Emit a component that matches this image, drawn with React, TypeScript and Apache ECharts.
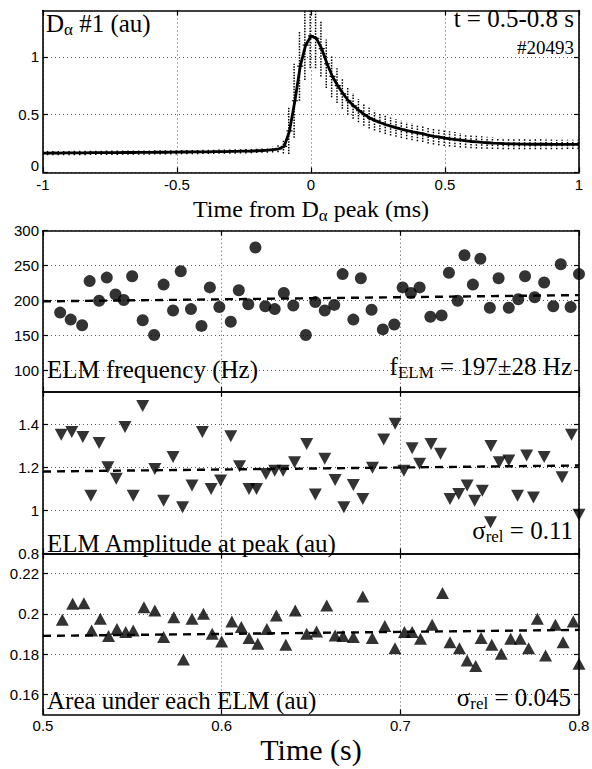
import React, { useEffect, useRef } from 'react';
import * as echarts from 'echarts';

const SERIF = '"Liberation Serif", "Times New Roman", serif';
const SANS = '"Liberation Sans", Arial, sans-serif';

// ---------- Top panel: mean D-alpha ELM waveform (ms from peak) ----------
const pulseT = [
  -1.0, -0.98, -0.96, -0.94, -0.92, -0.9, -0.88, -0.86, -0.84, -0.82,
  -0.8, -0.78, -0.76, -0.74, -0.72, -0.7, -0.68, -0.66, -0.64, -0.62,
  -0.6, -0.58, -0.56, -0.54, -0.52, -0.5, -0.48, -0.46, -0.44, -0.42,
  -0.4, -0.38, -0.36, -0.34, -0.32, -0.3, -0.28, -0.26, -0.24, -0.22,
  -0.2, -0.18, -0.16, -0.14, -0.12, -0.1, -0.08, -0.06, -0.04, -0.02,
  0.0, 0.02, 0.04, 0.06, 0.08, 0.1, 0.12, 0.14, 0.16, 0.18,
  0.2, 0.22, 0.24, 0.26, 0.28, 0.3, 0.32, 0.34, 0.36, 0.38,
  0.4, 0.42, 0.44, 0.46, 0.48, 0.5, 0.52, 0.54, 0.56, 0.58,
  0.6, 0.62, 0.64, 0.66, 0.68, 0.7, 0.72, 0.74, 0.76, 0.78,
  0.8, 0.82, 0.84, 0.86, 0.88, 0.9, 0.92, 0.94, 0.96, 0.98, 1.0,
];
const pulseMean = [
  0.168, 0.168, 0.169, 0.168, 0.169, 0.169, 0.17, 0.17, 0.17, 0.171,
  0.171, 0.171, 0.172, 0.172, 0.172, 0.173, 0.173, 0.173, 0.174, 0.174,
  0.174, 0.175, 0.175, 0.175, 0.176, 0.176, 0.177, 0.177, 0.178, 0.178,
  0.179, 0.179, 0.18, 0.181, 0.181, 0.182, 0.183, 0.184, 0.185, 0.186,
  0.188, 0.19, 0.193, 0.197, 0.205, 0.225, 0.36, 0.62, 0.92, 1.1,
  1.18, 1.16, 1.07, 0.94, 0.83, 0.75, 0.68, 0.62, 0.575, 0.535,
  0.5, 0.47, 0.448, 0.43, 0.413, 0.398, 0.385, 0.373, 0.362, 0.352,
  0.343, 0.334, 0.32, 0.312, 0.305, 0.298, 0.291, 0.285, 0.279, 0.273,
  0.268, 0.264, 0.26, 0.257, 0.254, 0.252, 0.25, 0.248, 0.247, 0.246,
  0.245, 0.244, 0.244, 0.244, 0.244, 0.243, 0.243, 0.243, 0.243, 0.243, 0.243,
];
const pulseErr = [
  0.02, 0.02, 0.02, 0.02, 0.02, 0.02, 0.02, 0.02, 0.02, 0.02,
  0.02, 0.02, 0.02, 0.02, 0.02, 0.02, 0.02, 0.02, 0.02, 0.02,
  0.02, 0.02, 0.02, 0.02, 0.02, 0.02, 0.02, 0.02, 0.02, 0.02,
  0.02, 0.02, 0.02, 0.02, 0.02, 0.02, 0.02, 0.02, 0.02, 0.02,
  0.02, 0.02, 0.022, 0.025, 0.03, 0.06, 0.2, 0.32, 0.3, 0.3,
  0.28, 0.26, 0.24, 0.21, 0.18, 0.15, 0.13, 0.12, 0.11, 0.1,
  0.095, 0.09, 0.085, 0.082, 0.08, 0.078, 0.076, 0.075, 0.074, 0.073,
  0.072, 0.071, 0.07, 0.07, 0.07, 0.068, 0.066, 0.064, 0.062, 0.06,
  0.058, 0.056, 0.054, 0.052, 0.05, 0.049, 0.048, 0.047, 0.046, 0.045,
  0.044, 0.044, 0.043, 0.043, 0.042, 0.042, 0.041, 0.041, 0.04, 0.04, 0.04,
];

// ---------- ELM frequency (Hz) ----------
const freqT = [
  0.5096, 0.5155, 0.5219, 0.5261, 0.5314, 0.5357, 0.5406, 0.5452, 0.5499, 0.5558,
  0.5622, 0.5675, 0.5728, 0.5771, 0.5828, 0.5887, 0.5934, 0.5987, 0.6051, 0.6096,
  0.6149, 0.6189, 0.6244, 0.6297, 0.6348, 0.6401, 0.6471, 0.6524, 0.6577, 0.663,
  0.6677, 0.6737, 0.6779, 0.6839, 0.6902, 0.6966, 0.7013, 0.7059, 0.7108, 0.7168,
  0.7231, 0.7272, 0.7321, 0.7359, 0.7406, 0.7448, 0.7501, 0.755, 0.7607, 0.766,
  0.7698, 0.7752, 0.7805, 0.7856, 0.7898, 0.7953, 0.8,
];
const freqV = [
  183, 173, 165, 228, 200, 233, 209, 201, 235, 172,
  151, 223, 186, 242, 188, 164, 219, 191, 170, 215,
  195, 276, 192, 188, 211, 193, 151, 198, 186, 194,
  238, 173, 232, 187, 159, 166, 219, 211, 219, 177,
  179, 240, 200, 265, 223, 260, 190, 232, 190, 202,
  235, 205, 226, 192, 252, 191, 238,
];
const freqFitT = [0.5, 0.8];
const freqFitV = [199, 208];

// ---------- ELM amplitude at peak (au) ----------
const ampT = [
  0.5102, 0.5161, 0.5223, 0.5268, 0.5314, 0.5363, 0.541, 0.5459, 0.5505, 0.5558,
  0.5626, 0.5675, 0.5728, 0.5781, 0.5834, 0.5892, 0.5941, 0.5994, 0.6051, 0.61,
  0.6153, 0.6195, 0.6248, 0.6297, 0.6344, 0.6408, 0.6476, 0.6524, 0.6577, 0.6635,
  0.6684, 0.6737, 0.679, 0.6844, 0.6907, 0.6971, 0.702, 0.7066, 0.7108, 0.7172,
  0.7225, 0.7278, 0.7327, 0.7374, 0.7416, 0.7459, 0.7505, 0.7507, 0.7554, 0.7607,
  0.7656, 0.7707, 0.7745, 0.7805, 0.7905, 0.7958, 0.8,
];
const ampV = [
  1.35, 1.363, 1.34, 1.068, 1.312, 1.2, 1.146, 1.386, 1.068, 1.484,
  1.192, 1.045, 1.247, 1.014, 1.115, 1.363, 1.099, 1.138, 1.343, 1.205,
  1.099, 1.099, 1.169, 1.184, 1.184, 1.223, 1.308, 1.073, 1.239, 1.141,
  1.014, 1.118, 1.053, 1.197, 1.329, 1.401, 1.184, 1.288, 1.216, 1.308,
  1.262, 1.053, 1.076, 1.115, 1.045, 1.091, 0.945, 1.298, 1.223, 1.231,
  1.068, 1.254, 1.06, 1.247, 1.153, 1.35, 0.98,
];
const ampFitT = [0.5, 0.8];
const ampFitV = [1.18, 1.208];

// ---------- Area under each ELM (au) ----------
const areaT = [
  0.5108, 0.5166, 0.5229, 0.5272, 0.5321, 0.5367, 0.5414, 0.5463, 0.5505, 0.5565,
  0.5626, 0.5675, 0.5732, 0.5786, 0.5834, 0.5898, 0.5947, 0.6, 0.6057, 0.611,
  0.6153, 0.6202, 0.6253, 0.6306, 0.6359, 0.6412, 0.6476, 0.6531, 0.6588, 0.6635,
  0.6679, 0.6737, 0.679, 0.6843, 0.6913, 0.697, 0.7023, 0.7066, 0.7113, 0.7178,
  0.7236, 0.7278, 0.7331, 0.7374, 0.7422, 0.7452, 0.7512, 0.7565, 0.7618, 0.7671,
  0.7718, 0.7767, 0.7813, 0.7868, 0.7911, 0.7968, 0.8,
];
const areaV = [
  0.197, 0.205, 0.2053, 0.1917, 0.1975, 0.1889, 0.1925, 0.1909, 0.1917, 0.2033,
  0.2017, 0.1884, 0.1983, 0.1773, 0.1975, 0.2, 0.1901, 0.1862, 0.1962, 0.1934,
  0.1879, 0.1851, 0.1925, 0.1992, 0.1846, 0.2017, 0.1901, 0.1912, 0.2041, 0.1892,
  0.1889, 0.1884, 0.2086, 0.1879, 0.1939, 0.1829, 0.1909, 0.1909, 0.1876, 0.1945,
  0.2104, 0.1859, 0.1829, 0.1768, 0.174, 0.1879, 0.1846, 0.1801, 0.1876, 0.1876,
  0.1829, 0.1975, 0.1793, 0.1945, 0.1859, 0.1962, 0.1751,
];
const areaFitT = [0.5, 0.8];
const areaFitV = [0.189, 0.192];

// ---------- Axis ticks ----------
const pulseXTicks = [-1, -0.5, 0, 0.5, 1];
const pulseYTicks = [0, 0.5, 1];
const pulseYLabels = [0.5, 1]; // "0" is drawn slightly raised, as in the original
const timeTicks = [0.5, 0.6, 0.7, 0.8];
const freqTicks = [100, 150, 200, 250, 300];
const ampTicks = [0.8, 1, 1.2, 1.4];
const areaTicks = [0.16, 0.18, 0.2, 0.22];

const ranges = [
  { x: [-1, 1], y: [0, 1.4], xt: pulseXTicks, yt: pulseYTicks, yl: pulseYLabels },
  { x: [0.5, 0.8], y: [70, 300], xt: timeTicks, yt: freqTicks, yl: freqTicks },
  { x: [0.5, 0.8], y: [0.8, 1.55], xt: timeTicks, yt: ampTicks, yl: ampTicks },
  { x: [0.5, 0.8], y: [0.15, 0.23], xt: timeTicks, yt: areaTicks, yl: areaTicks },
];

const pair = (xs: number[], ys: number[]) => xs.map((x, i) => [x, ys[i]]);

export default function App() {
  const ref = useRef<HTMLDivElement>(null);
  useEffect(() => {
    document.body.style.margin = '0';
    const chart = echarts.init(ref.current!, null, { renderer: 'svg' });

    const gridBoxes = [
      { left: 43, top: 10.5, width: 536, height: 162 },
      { left: 43, top: 230.7, width: 536, height: 161 },
      { left: 43, top: 391.7, width: 536, height: 161.8 },
      { left: 43, top: 553.5, width: 536, height: 160.8 },
    ];

    const frameLine = { onZero: false, lineStyle: { color: '#000', width: 1.6 } };
    const tickStyle = { color: '#000', width: 1.2 };
    const gridStyle = { color: '#555', type: [1, 3], width: 1 };
    const labelStyle = { color: '#000', fontFamily: SANS, fontSize: 15 };

    const xAxis: any[] = [];
    const yAxis: any[] = [];
    ranges.forEach((r, i) => {
      xAxis.push({
        type: 'value', gridIndex: i, position: 'bottom', min: r.x[0], max: r.x[1],
        axisLine: frameLine,
        axisTick: { inside: true, length: 5, customValues: r.xt, lineStyle: tickStyle },
        axisLabel: { show: i === 0 || i === 3, customValues: r.xt, margin: 4, ...labelStyle },
        splitLine: { show: true, lineStyle: gridStyle },
      });
      xAxis.push({
        type: 'value', gridIndex: i, position: 'top', min: r.x[0], max: r.x[1],
        axisLine: frameLine,
        axisTick: { inside: true, length: 5, customValues: r.xt, lineStyle: tickStyle },
        axisLabel: { show: false },
        splitLine: { show: false },
      });
      yAxis.push({
        type: 'value', gridIndex: i, position: 'left', min: r.y[0], max: r.y[1],
        axisLine: frameLine,
        axisTick: { inside: true, length: 5, customValues: r.yt, lineStyle: tickStyle },
        axisLabel: { show: true, customValues: r.yl, margin: 4, ...labelStyle },
        splitLine: { show: true, lineStyle: gridStyle },
      });
      yAxis.push({
        type: 'value', gridIndex: i, position: 'right', min: r.y[0], max: r.y[1],
        axisLine: frameLine,
        axisTick: { inside: true, length: 5, customValues: r.yt, lineStyle: tickStyle },
        axisLabel: { show: false },
        splitLine: { show: false },
      });
    });

    const errData = pulseT.map((t, i) => [t, pulseMean[i] - pulseErr[i], pulseMean[i] + pulseErr[i]]);

    const fitStyle = { color: '#000', width: 2.4, type: [8, 6] };

    const series: any[] = [
      {
        type: 'custom', xAxisIndex: 0, yAxisIndex: 0, clip: true, z: 2,
        data: errData,
        renderItem: (params: any, api: any) => {
          const p1 = api.coord([api.value(0), api.value(1)]);
          const p2 = api.coord([api.value(0), api.value(2)]);
          return {
            type: 'group',
            children: [
              {
                type: 'line',
                shape: { x1: p1[0] - 0.8, y1: p1[1], x2: p2[0] - 0.8, y2: p2[1] },
                style: { stroke: '#000', lineWidth: 1.5, lineDash: [1.5, 1.3] },
              },
              {
                type: 'line',
                shape: { x1: p1[0] - 3, y1: (p1[1] + p2[1]) / 2, x2: p1[0] + 3, y2: (p1[1] + p2[1]) / 2 },
                style: { stroke: '#000', lineWidth: 1.2 },
              },
            ],
          };
        },
      },
      {
        type: 'line', xAxisIndex: 0, yAxisIndex: 0, z: 3,
        data: pair(pulseT, pulseMean), symbol: 'none',
        lineStyle: { color: '#000', width: 2.8 },
      },
      {
        type: 'line', xAxisIndex: 2, yAxisIndex: 2, z: 2,
        data: pair(freqFitT, freqFitV), symbol: 'none', lineStyle: fitStyle,
      },
      {
        type: 'scatter', xAxisIndex: 2, yAxisIndex: 2, z: 3, clip: false,
        data: pair(freqT, freqV), symbol: 'circle', symbolSize: 12,
        itemStyle: { color: '#000' },
      },
      {
        type: 'line', xAxisIndex: 4, yAxisIndex: 4, z: 2,
        data: pair(ampFitT, ampFitV), symbol: 'none', lineStyle: fitStyle,
      },
      {
        type: 'scatter', xAxisIndex: 4, yAxisIndex: 4, z: 3, clip: false,
        data: pair(ampT, ampV), symbol: 'triangle', symbolRotate: 180, symbolSize: [13, 12],
        itemStyle: { color: '#000' },
      },
      {
        type: 'line', xAxisIndex: 6, yAxisIndex: 6, z: 2,
        data: pair(areaFitT, areaFitV), symbol: 'none', lineStyle: fitStyle,
      },
      {
        type: 'scatter', xAxisIndex: 6, yAxisIndex: 6, z: 3, clip: false,
        data: pair(areaT, areaV), symbol: 'triangle', symbolSize: [13, 12],
        itemStyle: { color: '#000' },
      },
    ];

    const big = (size: number) => ({ fontSize: size, fontFamily: SERIF, fill: '#000' });
    const sub = (size: number, drop: number) => ({ fontSize: size, fontFamily: SERIF, fill: '#000', padding: [drop, 0, 0, 0] });

    const txt = (x: number, y: number, text: string, align: string, size: number, subSize = 17, drop = 13) => ({
      type: 'text', x, y, z: 10,
      style: {
        text, align, verticalAlign: 'middle', fill: '#000',
        font: `${size}px ${SERIF}`,
        rich: { a: big(size), s: sub(subSize, drop) },
      },
    });

    const graphic = [
      txt(46, 23, '{a|D}{s|α}{a| #1 (au)}', 'left', 25),
      txt(574, 18, '{a|t = 0.5-0.8 s}', 'right', 25),
      txt(574, 47, '{a|#20493}', 'right', 19),
      txt(311, 209, '{a|Time from D}{s|α}{a| peak (ms)}', 'center', 24, 17, 12),
      txt(47, 369, '{a|ELM frequency (Hz)}', 'left', 25),
      txt(572, 366, '{a|f}{s|ELM}{a| = 197±28 Hz}', 'right', 25),
      txt(47, 543, '{a|ELM Amplitude at peak (au)}', 'left', 25),
      txt(573, 530, '{a|σ}{s|rel}{a| = 0.11}', 'right', 25),
      txt(47, 700, '{a|Area under each ELM (au)}', 'left', 25),
      txt(571, 697, '{a|σ}{s|rel}{a| = 0.045}', 'right', 25),
      txt(311, 749, '{a|Time (s)}', 'center', 30),
      {
        type: 'text', x: 39, y: 165, z: 10,
        style: { text: '0', align: 'right', verticalAlign: 'middle', fill: '#000', font: `15px ${SANS}` },
      },
    ];

    chart.setOption({
      animation: false,
      backgroundColor: '#fff',
      grid: gridBoxes.map((g) => ({ ...g, containLabel: false, outerBoundsMode: 'none' })),
      xAxis,
      yAxis,
      series,
      graphic,
    });
    return () => chart.dispose();
  }, []);
  return <div ref={ref} style={{ width: 592, height: 769, position: 'absolute', left: 0, top: 0 }} />;
}
